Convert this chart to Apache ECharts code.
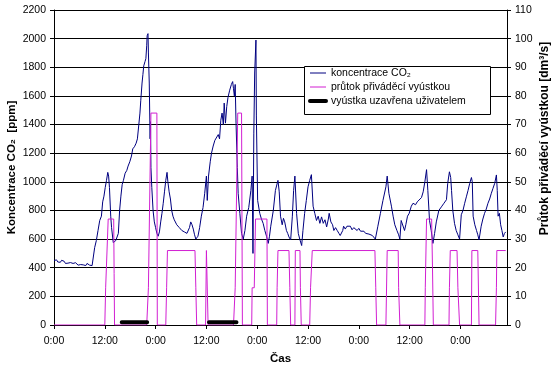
<!DOCTYPE html>
<html><head><meta charset="utf-8">
<script src="https://cdn.jsdelivr.net/npm/echarts@6/dist/echarts.min.js"></script>
<style>html,body{margin:0;padding:0;background:#fff}#c{width:555px;height:365px}</style>
</head><body><div id="c"></div>
<script>
// ---- data ----
const xTickHours = [0, 12, 24, 36, 48, 60, 72, 84, 96];
const xTickLabels = ['0:00', '12:00', '0:00', '12:00', '0:00', '12:00', '0:00', '12:00', '0:00'];
const seriesNames = ['koncentrace CO₂', 'průtok přiváděcí vyústkou', 'vyústka uzavřena uživatelem'];

// CO2 concentration [hour, ppm]
const co2Data = [
[0,450],[0.3,445],[0.6,455],[0.9,440],[1.2,448],[1.5,438],[1.8,452],[2.1,440],[2.4,445],[2.7,430],
[3.0,440],[3.3,432],[3.6,428],[3.9,436],[4.2,425],[4.5,430],[4.8,420],[5.1,435],[5.4,428],[5.7,418],
[6.0,430],[6.3,422],[6.6,432],[6.9,420],[7.2,428],[7.5,415],[7.8,430],[8.1,425],[8.4,418],[8.7,428],
[9.0,415],[9.3,412],[9.6,540],[10.0,590],[10.4,660],[10.8,730],[11.2,760],[11.5,860],[11.8,900],[12.1,960],
[12.4,1010],[12.7,1066],[12.9,1040],[13.1,960],[13.4,760],[13.6,680],[14.0,575],[14.3,565],[14.6,590],[14.9,600],
[15.2,640],[15.5,800],[15.8,900],[16.1,980],[16.4,1010],[16.8,1060],[17.2,1080],[17.5,1110],[17.9,1140],[18.3,1180],
[18.6,1230],[19.0,1245],[19.4,1270],[19.7,1300],[20.0,1390],[20.3,1480],[20.5,1570],[20.8,1690],[21.0,1750],[21.2,1810],
[21.5,1840],[21.7,1860],[21.9,1950],[22.0,2020],[22.2,2035],[22.3,1900],[22.5,1690],[22.7,1300],[22.8,1420],[22.9,1100],
[23.1,960],[23.4,800],[23.7,720],[24.0,680],[24.3,640],[24.6,620],[24.9,650],[25.2,720],[25.5,780],[25.8,850],
[26.1,930],[26.4,1010],[26.7,1066],[26.9,1000],[27.2,930],[27.5,880],[27.8,800],[28.1,760],[28.4,735],[28.7,740],
[29.0,700],[29.3,690],[29.6,680],[29.9,670],[30.2,660],[30.5,670],[30.8,650],[31.1,660],[31.4,640],[31.7,645],
[32.0,680],[32.3,720],[32.6,700],[32.9,670],[33.2,630],[33.5,600],[33.7,590],[34.0,620],[34.4,680],[34.8,760],
[35.2,820],[35.6,920],[36.0,1040],[36.2,870],[36.5,1040],[36.9,1140],[37.2,1200],[37.6,1250],[38.0,1290],[38.4,1300],
[38.8,1330],[39.1,1300],[39.4,1430],[39.7,1480],[40.0,1400],[40.2,1550],[40.5,1410],[40.8,1525],[41.1,1590],[41.5,1640],
[41.9,1680],[42.2,1700],[42.4,1650],[42.6,1600],[42.8,1680],[43.0,1410],[43.3,1100],[43.5,920],[43.9,780],[44.3,640],
[44.7,600],[45.1,660],[45.5,760],[46.0,820],[46.5,940],[46.8,1040],[47.0,500],[47.2,1340],[47.4,1760],[47.7,1990],
[47.8,1460],[48.1,870],[48.6,780],[49.0,740],[49.4,710],[49.8,660],[50.2,620],[50.6,570],[50.9,620],[51.2,690],
[51.8,800],[52.3,940],[52.9,1010],[53.2,930],[53.5,760],[53.9,700],[54.2,745],[54.5,720],[54.9,660],[55.2,640],
[55.5,615],[55.9,594],[56.3,760],[56.6,940],[56.9,1040],[57.3,780],[57.7,640],[58.1,594],[58.5,555],[58.8,660],
[59.2,780],[59.6,870],[60.0,965],[60.4,1010],[60.8,1050],[61.2,830],[61.6,780],[62.0,730],[62.4,760],[62.8,710],
[63.2,755],[63.6,710],[64.0,735],[64.4,685],[64.8,740],[65.0,780],[65.4,720],[65.8,700],[66.1,660],[66.5,680],
[66.9,660],[67.3,640],[67.6,625],[67.9,615],[68.2,660],[68.4,690],[68.8,670],[69.2,690],[69.6,680],[70.0,690],
[70.4,665],[70.8,680],[71.2,670],[71.6,660],[72.0,675],[72.4,655],[72.8,645],[73.2,655],[73.6,640],[74.0,650],
[74.4,635],[74.8,640],[75.2,625],[75.6,615],[75.9,600],[76.2,594],[76.5,690],[77.1,780],[77.7,870],[78.4,965],
[78.7,1040],[79.1,920],[79.7,830],[80.1,760],[80.5,700],[81.0,660],[81.4,630],[81.7,600],[82.0,730],[82.4,720],
[82.8,660],[83.1,700],[83.5,760],[83.9,780],[84.4,830],[84.8,850],[85.4,840],[85.8,860],[86.2,860],[86.8,890],
[87.2,930],[87.6,1000],[88.0,1085],[88.3,940],[88.7,730],[89.1,660],[89.5,570],[89.9,640],[90.3,720],[90.9,800],
[91.5,825],[92.1,850],[92.7,875],[93.0,990],[93.4,1070],[93.7,1030],[93.9,940],[94.2,800],[94.6,710],[95.0,660],
[95.4,630],[95.8,600],[96.2,770],[96.6,800],[97.0,850],[97.4,895],[97.8,940],[98.2,990],[98.6,1030],[98.8,1000],
[99.0,760],[99.4,700],[99.8,660],[100.1,630],[100.4,595],[100.9,690],[101.3,740],[101.7,780],[102.1,810],[102.5,850],
[102.9,880],[103.3,920],[103.7,955],[104.1,990],[104.5,1048],[104.7,940],[104.9,760],[105.2,780],[105.5,700],[105.8,660],
[106.1,615],[106.4,640],[106.7,650]
];

// supply flow [hour, dm3/s]
const flowData = [
[0,0],[12.0,0],[12.2,13],[12.8,37],[14.1,37],[14.2,18],[14.3,0],
[21.9,0],[22.3,13],[22.9,74],[24.3,74],[24.4,0],
[26.4,0],[26.6,13],[26.8,26],[33.3,26],[33.5,13],[33.7,0],
[35.8,0],[36.0,26],[36.3,26],[36.4,0],
[42.4,0],[42.8,13],[43.4,74],[44.3,74],[44.5,0],
[46.7,0],[46.8,13],[47.3,13],[47.6,37],[50.3,37],[50.4,0],
[52.6,0],[52.7,13],[52.9,26],[55.5,26],[55.7,13],[55.9,0],
[56.9,0],[57.0,26],[58.1,26],[58.2,13],[58.4,0],
[60.4,0],[60.6,13],[61.0,26],[75.8,26],[76.0,13],[76.2,0],
[78.4,0],[78.7,26],[81.3,26],[81.4,13],[81.7,0],
[87.6,0],[87.7,13],[88.0,37],[89.2,37],[89.4,20],[89.6,0],
[93.3,0],[93.4,13],[93.6,26],[95.2,26],[95.4,13],[95.8,0],
[98.6,0],[98.7,26],[100.1,26],[100.4,0],
[104.3,0],[104.5,13],[104.6,26],[106.7,26]
];

// periods when the vent was closed by the user [start hour, end hour]
const closedStart = [16.0, 36.6];
const closedEnd = [22.0, 43.1];
const closedLevel = 1;

// ---- build ----
const closedData = [];
closedStart.forEach((s, i) => {
  if (i > 0) closedData.push([(closedEnd[i - 1] + s) / 2, '-']);
  closedData.push([s, closedLevel], [closedEnd[i], closedLevel]);
});

const FONT = 'Liberation Sans, Arial, sans-serif';
const chart = echarts.init(document.getElementById('c'), null, { renderer: 'canvas' });
chart.setOption({
  backgroundColor: '#fff',
  animation: false,
  textStyle: { fontFamily: FONT, color: '#000' },
  grid: { left: 54, right: 48, top: 10, bottom: 40, containLabel: false, outerBoundsMode: 'none' },
  xAxis: {
    type: 'value', min: 0, max: 107, interval: 12,
    name: 'Čas', nameLocation: 'middle', nameGap: 28, nameMoveOverlap: false,
    nameTextStyle: { fontFamily: FONT, fontSize: 11.5, fontWeight: 'bold', color: '#000' },
    axisLine: { show: true, onZero: false, lineStyle: { color: '#000', width: 1 } },
    axisTick: { show: true, length: 4, lineStyle: { color: '#000' }, customValues: xTickHours },
    axisLabel: {
      fontFamily: FONT, fontSize: 10.5, color: '#000', margin: 11,
      customValues: xTickHours,
      formatter: v => { const i = xTickHours.indexOf(v); return i >= 0 ? xTickLabels[i] : ''; }
    },
    splitLine: { show: false }
  },
  yAxis: [{
    type: 'value', min: 0, max: 2200, interval: 200, position: 'left',
    name: 'Koncentrace CO₂  [ppm]', nameLocation: 'middle', nameGap: 36, nameMoveOverlap: false,
    nameTextStyle: { fontFamily: FONT, fontSize: 11.5, fontWeight: 'bold', color: '#000' },
    axisLine: { show: true, lineStyle: { color: '#000', width: 1 } },
    axisTick: { show: true, length: 4, lineStyle: { color: '#000' } },
    axisLabel: { fontFamily: FONT, fontSize: 10.5, color: '#000', margin: 8, formatter: v => String(v) },
    splitLine: { show: true, lineStyle: { color: '#000', width: 1, opacity: 1 } }
  }, {
    type: 'value', min: 0, max: 110, interval: 10, position: 'right',
    name: 'Průtok přiváděcí vyústkou [dm³/s]', nameLocation: 'middle', nameGap: 32, nameMoveOverlap: false,
    nameTextStyle: { fontFamily: FONT, fontSize: 12, fontWeight: 'bold', color: '#000', padding: [0, 0, 0, 58] },
    axisLine: { show: true, lineStyle: { color: '#000', width: 1 } },
    axisTick: { show: true, length: 4, lineStyle: { color: '#000' } },
    axisLabel: { fontFamily: FONT, fontSize: 10.5, color: '#000', margin: 8, formatter: v => String(v) },
    splitLine: { show: false }
  }],
  legend: {
    orient: 'vertical', left: 308, top: 67, padding: 0,
    itemWidth: 16, itemHeight: 12, itemGap: 2,
    itemStyle: { opacity: 0, borderWidth: 0 },
    textStyle: { fontFamily: FONT, fontSize: 10.5, color: '#000', lineHeight: 12 },
    data: [
      { name: seriesNames[0], lineStyle: { width: 1 } },
      { name: seriesNames[1], lineStyle: { width: 1 } },
      { name: seriesNames[2], lineStyle: { width: 4 } }
    ],
    z: 10
  },
  graphic: [{
    type: 'rect', left: 304, top: 66, z: 5,
    shape: { width: 186, height: 48 },
    style: { fill: '#fff', stroke: '#000', lineWidth: 1 }
  }],
  series: [{
    name: seriesNames[0], type: 'line', yAxisIndex: 0, data: co2Data,
    symbol: 'none', showSymbol: false, color: '#000080',
    lineStyle: { color: '#000080', width: 1 }, z: 2
  }, {
    name: seriesNames[1], type: 'line', yAxisIndex: 1, data: flowData,
    symbol: 'none', showSymbol: false, color: '#d21fd2',
    lineStyle: { color: '#d21fd2', width: 1 }, z: 3
  }, {
    name: seriesNames[2], type: 'line', yAxisIndex: 1, data: closedData,
    symbol: 'none', showSymbol: false, connectNulls: false, color: '#000',
    lineStyle: { color: '#000', width: 4, cap: 'round' }, z: 4
  }]
});
</script></body></html>
